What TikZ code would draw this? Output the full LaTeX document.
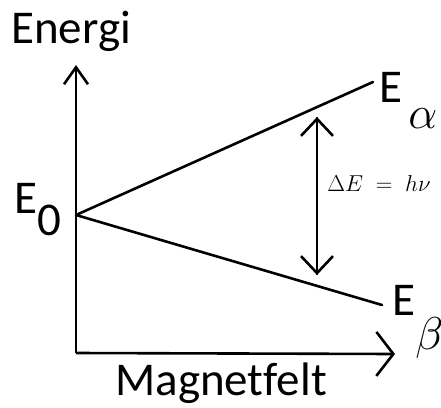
\RequirePackage{fix-cm}
\documentclass[tikz,border=0pt]{standalone}
\usepackage{fontspec}
\setmainfont{Carlito}[Ligatures=NoCommon]
\usetikzlibrary{arrows.meta}

\definecolor{inkcolor}{RGB}{0,0,0}

\begin{document}
\begin{tikzpicture}[x=1pt, y=-1pt, line width=2.6pt, inkcolor,
    font=\fontsize{47}{47}\selectfont]

  \tikzset{
    barb/.style={-{Straight Barb[length=17pt, width=#1, line width=2.6pt]}},
    level/.style={line width=2.6pt, line cap=round},
    greek/.style={font=\fontsize{46}{46}\selectfont, anchor=base west, inner sep=0pt},
    lbl/.style={anchor=base west, inner sep=0pt}
  }

  \useasboundingbox (0,0) rectangle (441,407);

  % axis points
  \coordinate (corner) at (76,353);
  \coordinate (ytop)   at (76,65);
  \coordinate (xend)   at (395,354);
  \coordinate (origin) at (76,215);

  % end points of the two levels
  \coordinate (alphaend) at (373,82);
  \coordinate (betaend)  at (382,305);

  % gap arrow
  \coordinate (gaptop) at (317,117);
  \coordinate (gapbot) at (317,275);

  % axes
  \draw[barb=24pt] (corner) -- (ytop);
  \draw[barb=44pt] (corner) -- (xend);

  % splitting of the levels
  \draw[level] (origin) -- (alphaend);
  \draw[level] (origin) -- (betaend);

  % energy gap
  \draw[barb=32pt] (gapbot) -- (gaptop);
  \draw[barb=32pt] (gaptop) -- (gapbot);

  % texts
  \node[lbl] (energi) at (10,43) {Energi};
  \node[lbl] (magfelt) at (114,395) {Magnetfelt};
  \node[lbl] (ezero) at (13,213) {E\raisebox{-22pt}{0}};
  \node[lbl] (ealpha) at (378,102) {E};
  \node[greek] (alpha) at (407,128) {$\alpha$};
  \node[lbl] (ebeta) at (391,315) {E};
  \node[greek] (beta) at (414,349) {$\beta$};
  \node[lbl, font=\fontsize{23}{23}\selectfont] (gap) at (326,191)
    {$\Delta E\;=\;h\nu$};

\end{tikzpicture}
\end{document}
